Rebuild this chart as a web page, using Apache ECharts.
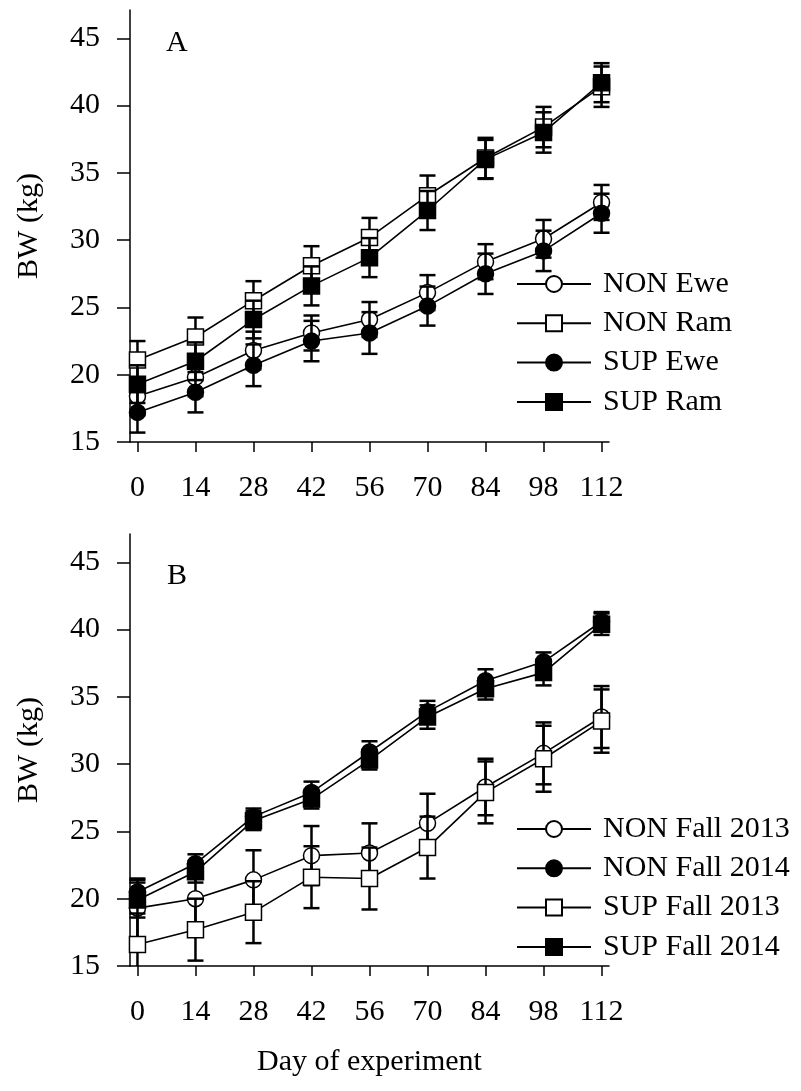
<!DOCTYPE html>
<html>
<head>
<meta charset="utf-8">
<script src="https://cdn.jsdelivr.net/npm/echarts@6/dist/echarts.min.js"></script>
<style>
html,body{margin:0;padding:0;background:#fff;}
#chart{width:801px;height:1091px;}
</style>
</head>
<body>
<div id="chart"></div>
<script>
// ---- data ----
var days = [0, 14, 28, 42, 56, 70, 84, 98, 112];
var yTicks = [15, 20, 25, 30, 35, 40, 45];

// Panel A
var namesA = ['NON Ewe', 'NON Ram', 'SUP Ewe', 'SUP Ram'];
var nonEwe   = [18.4, 19.8, 21.8, 23.1, 24.1, 26.1, 28.4, 30.1, 32.8];
var nonEweSE = [1.4, 1.4, 1.4, 1.3, 1.3, 1.3, 1.3, 1.4, 1.3];
var nonRam   = [21.1, 22.8, 25.5, 28.1, 30.2, 33.3, 36.1, 38.4, 41.4];
var nonRamSE = [1.4, 1.45, 1.45, 1.45, 1.45, 1.5, 1.5, 1.5, 1.5];
var supEwe   = [17.2, 18.7, 20.7, 22.5, 23.1, 25.1, 27.5, 29.2, 32.0];
var supEweSE = [1.5, 1.5, 1.55, 1.5, 1.55, 1.45, 1.5, 1.5, 1.45];
var supRam   = [19.3, 21.0, 24.1, 26.6, 28.7, 32.2, 36.0, 38.0, 41.7];
var supRamSE = [1.4, 1.4, 1.4, 1.45, 1.45, 1.45, 1.45, 1.5, 1.45];

// Panel B
var namesB = ['NON Fall 2013', 'NON Fall 2014', 'SUP Fall 2013', 'SUP Fall 2014'];
var non13   = [19.3, 20.0, 21.4, 23.2, 23.4, 25.6, 28.3, 30.8, 33.5];
var non13SE = [2.2, 2.3, 2.2, 2.2, 2.2, 2.2, 2.1, 2.3, 2.3];
var non14   = [20.5, 22.6, 26.1, 27.9, 30.9, 33.9, 36.2, 37.6, 40.6];
var non14SE = [0.9, 0.7, 0.6, 0.8, 0.8, 0.8, 0.85, 0.7, 0.7];
var sup13   = [16.6, 17.7, 19.0, 21.6, 21.5, 23.8, 27.9, 30.4, 33.2];
var sup13SE = [2.3, 2.3, 2.3, 2.3, 2.3, 2.3, 2.3, 2.45, 2.35];
var sup14   = [19.9, 22.0, 25.8, 27.4, 30.3, 33.5, 35.6, 36.8, 40.4];
var sup14SE = [1.3, 0.8, 0.7, 0.7, 0.7, 0.87, 0.8, 0.95, 0.8];

// ---- styles ----
var FONT = "'Liberation Serif', 'Times New Roman', serif";
var FS = 30;

var panels = [
  {names: namesA, vals: [nonEwe, nonRam, supEwe, supRam], ses: [nonEweSE, nonRamSE, supEweSE, supRamSE],
   symbols: ['circle', 'rect', 'circle', 'rect'], fills: ['#fff', '#fff', '#000', '#000']},
  {names: namesB, vals: [non13, non14, sup13, sup14], ses: [non13SE, non14SE, sup13SE, sup14SE],
   symbols: ['circle', 'circle', 'rect', 'rect'], fills: ['#fff', '#000', '#fff', '#000']}
];

function errRender(params, api) {
  var cs = params.coordSys;
  var x = api.coord([api.value(0), api.value(1)])[0];
  var yLo = api.coord([api.value(0), api.value(1)])[1];
  var yHi = api.coord([api.value(0), api.value(2)])[1];
  var top = cs.y, bot = cs.y + cs.height;
  var children = [];
  var a = Math.max(top, Math.min(bot, yHi));
  var b = Math.max(top, Math.min(bot, yLo));
  children.push({type: 'line', shape: {x1: x, y1: a, x2: x, y2: b}, style: {stroke: '#000', lineWidth: 2.5}});
  var hw = 8;
  if (yHi >= top && yHi <= bot) children.push({type: 'line', shape: {x1: x - hw, y1: yHi, x2: x + hw, y2: yHi}, style: {stroke: '#000', lineWidth: 2.5}});
  if (yLo >= top && yLo <= bot) children.push({type: 'line', shape: {x1: x - hw, y1: yLo, x2: x + hw, y2: yLo}, style: {stroke: '#000', lineWidth: 2.5}});
  return {type: 'group', children: children};
}

var series = [];
panels.forEach(function (p, gi) {
  for (var i = 0; i < 4; i++) {
    var v = p.vals[i], se = p.ses[i];
    var errData = days.map(function (d, k) { return [d, v[k] - se[k], v[k] + se[k]]; });
    series.push({
      type: 'custom', name: p.names[i] + ' err', xAxisIndex: gi, yAxisIndex: gi,
      renderItem: errRender, data: errData, z: 2 + 2 * i, silent: true,
      encode: {x: 0, y: [1, 2]}
    });
    series.push({
      type: 'line', name: p.names[i], xAxisIndex: gi, yAxisIndex: gi,
      data: days.map(function (d, k) { return [d, v[k]]; }),
      symbol: p.symbols[i], symbolSize: 16, showSymbol: true, z: 3 + 2 * i,
      lineStyle: {color: '#000', width: 1.6},
      itemStyle: {color: p.fills[i], borderColor: '#000', borderWidth: 1.5, opacity: 1},
      emphasis: {disabled: true}, silent: true
    });
  }
});

function xAxisCfg(gi, withName) {
  var o = {
    type: 'value', gridIndex: gi, min: -1.8, max: 113.8,
    axisLine: {show: true, onZero: false, lineStyle: {color: '#000', width: 1.5}},
    axisTick: {show: true, length: 10, inside: false, lineStyle: {color: '#000', width: 1.5}, customValues: days},
    axisLabel: {customValues: days, color: '#000', fontSize: FS, fontFamily: FONT, margin: 31},
    splitLine: {show: false}
  };
  if (withName) {
    o.name = 'Day of experiment';
    o.nameLocation = 'middle';
    o.nameGap = 81;
    o.nameTextStyle = {color: '#000', fontSize: FS, fontFamily: FONT};
  }
  return o;
}
function yAxisCfg(gi) {
  return {
    type: 'value', gridIndex: gi, min: 15, max: 47.1,
    name: 'BW (kg)', nameLocation: 'middle', nameGap: 86,
    nameTextStyle: {color: '#000', fontSize: FS, fontFamily: FONT},
    axisLine: {show: true, onZero: false, lineStyle: {color: '#000', width: 1.5}},
    axisTick: {show: true, length: 13, inside: false, lineStyle: {color: '#000', width: 1.5}, customValues: yTicks},
    axisLabel: {customValues: yTicks, color: '#000', fontSize: FS, fontFamily: FONT, margin: 30},
    splitLine: {show: false}
  };
}

function legendCfg(names, top) {
  return {
    data: names, orient: 'vertical', left: 511, top: top,
    itemWidth: 74, itemHeight: 20, itemGap: 9.3,
    textStyle: {color: '#000', fontSize: FS, fontFamily: FONT, padding: [0, 0, 0, 7]},
    selectedMode: false, inactiveColor: '#000'
  };
}

var chart = echarts.init(document.getElementById('chart'), null, {renderer: 'canvas'});
chart.setOption({
  animation: false,
  backgroundColor: '#fff',
  grid: [
    {left: 130, top: 10, width: 479, height: 432},
    {left: 130, top: 534, width: 479, height: 432}
  ],
  xAxis: [xAxisCfg(0, false), xAxisCfg(1, true)],
  yAxis: [yAxisCfg(0), yAxisCfg(1)],
  legend: [legendCfg(namesA, 264), legendCfg(namesB, 809)],
  graphic: [
    {type: 'text', left: 166, top: 28, style: {text: 'A', fontSize: FS, fontFamily: FONT, fill: '#000'}},
    {type: 'text', left: 167, top: 561, style: {text: 'B', fontSize: FS, fontFamily: FONT, fill: '#000'}}
  ],
  series: series
});
</script>
</body>
</html>
